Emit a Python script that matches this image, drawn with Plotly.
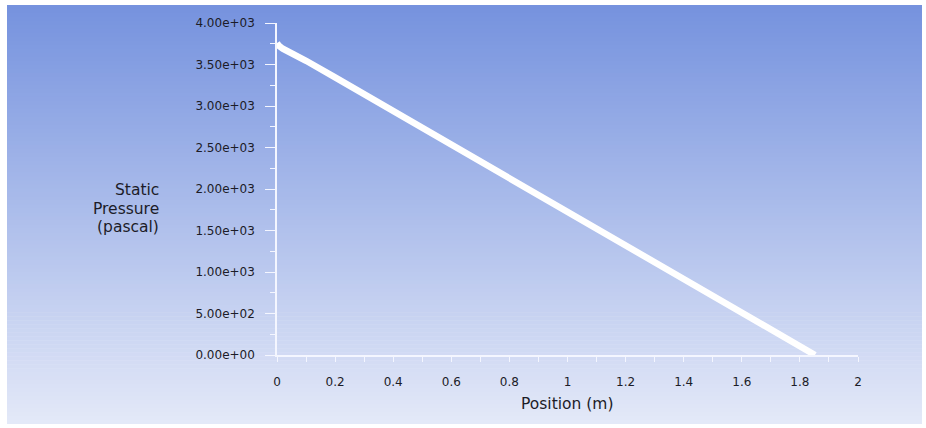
import plotly.graph_objects as go

# Static pressure along the pipe centreline
position_m = [0.0, 0.005, 0.02, 0.05, 0.1, 0.2, 0.4, 0.6, 0.8, 1.0,
              1.2, 1.4, 1.6, 1.8, 1.852]
static_pressure_pa = [3760, 3730, 3690, 3640, 3545, 3345, 2940, 2535, 2130,
                      1725, 1320, 915, 510, 105, 0]

y_tick_values = [0, 500, 1000, 1500, 2000, 2500, 3000, 3500, 4000]
y_tick_labels = ["0.00e+00", "5.00e+02", "1.00e+03", "1.50e+03", "2.00e+03",
                 "2.50e+03", "3.00e+03", "3.50e+03", "4.00e+03"]
x_tick_values = [0, 0.2, 0.4, 0.6, 0.8, 1.0, 1.2, 1.4, 1.6, 1.8, 2.0]
x_tick_labels = ["0", "0.2", "0.4", "0.6", "0.8", "1", "1.2", "1.4", "1.6", "1.8", "2"]
y_title_lines = ["Static", "Pressure", "(pascal)"]
x_title = "Position (m)"

W, H = 926, 428
L, R, T, B = 277, 68, 23, 73
plot_w = W - L - R
plot_h = H - T - B


def px_x(p):
    return (p - L) / plot_w


def px_y(p):
    return (H - B - p) / plot_h


# vertical blue gradient backdrop made of thin bands
top_rgb = (117, 146, 222)
bot_rgb = (228, 233, 248)
bg_left, bg_right, bg_top, bg_bottom = 7, 922, 5, 424
n_bands = 105
shapes = []
for i in range(n_bands):
    y0 = bg_top + (bg_bottom - bg_top) * i / n_bands
    y1 = bg_top + (bg_bottom - bg_top) * (i + 1) / n_bands + 0.6
    f = (i + 0.5) / n_bands
    c = tuple(round(a + (b - a) * f) for a, b in zip(top_rgb, bot_rgb))
    shapes.append(dict(type="rect", xref="paper", yref="paper",
                       x0=px_x(bg_left), x1=px_x(bg_right),
                       y0=px_y(min(y1, bg_bottom)), y1=px_y(y0),
                       fillcolor="rgb(%d,%d,%d)" % c, line=dict(width=0),
                       layer="below"))

fig = go.Figure()
fig.add_trace(go.Scatter(x=position_m, y=static_pressure_pa, mode="lines",
                         line=dict(color="white", width=6.5),
                         hoverinfo="x+y", showlegend=False))

font_main = "DejaVu Sans, Verdana, sans-serif"
text_col = "#1c1c28"
axis_col = "#f4f6ff"

annotations = []
for k, line in enumerate(y_title_lines):
    annotations.append(dict(text=line, xref="paper", yref="paper",
                            x=px_x(161), y=px_y(190 + 18.5 * k),
                            xanchor="right", yanchor="middle", showarrow=False,
                            font=dict(family=font_main, size=15.5, color=text_col)))
annotations.append(dict(text=x_title, xref="paper", yref="paper",
                        x=px_x(567), y=px_y(404), xanchor="center",
                        yanchor="middle", showarrow=False,
                        font=dict(family=font_main, size=15.5, color=text_col)))

fig.update_layout(
    width=W, height=H,
    margin=dict(l=L, r=R, t=T, b=B, pad=0),
    paper_bgcolor="white",
    plot_bgcolor="rgba(0,0,0,0)",
    shapes=shapes,
    font=dict(family=font_main, size=12, color=text_col),
    xaxis=dict(range=[0, 2], showgrid=False, zeroline=False,
               showline=True, linecolor=axis_col, linewidth=1.5,
               tickvals=x_tick_values, ticktext=x_tick_labels,
               ticks="outside", ticklen=5, tickwidth=1.2, tickcolor=axis_col,
               minor=dict(dtick=0.1, ticks="outside", ticklen=5,
                          tickwidth=1.2, tickcolor=axis_col, showgrid=False),
               ticklabelstandoff=10,
               tickfont=dict(family=font_main, size=12, color=text_col)),
    yaxis=dict(range=[0, 4000], showgrid=False, zeroline=False,
               showline=True, linecolor=axis_col, linewidth=1.5,
               tickvals=y_tick_values, ticktext=y_tick_labels,
               ticks="outside", ticklen=10, tickwidth=1.2, tickcolor=axis_col,
               minor=dict(dtick=250, ticks="outside", ticklen=5,
                          tickwidth=1.2, tickcolor=axis_col, showgrid=False),
               ticklabelstandoff=8,
               tickfont=dict(family=font_main, size=12, color=text_col)),
    annotations=annotations,
)

fig.write_html("out.html")
